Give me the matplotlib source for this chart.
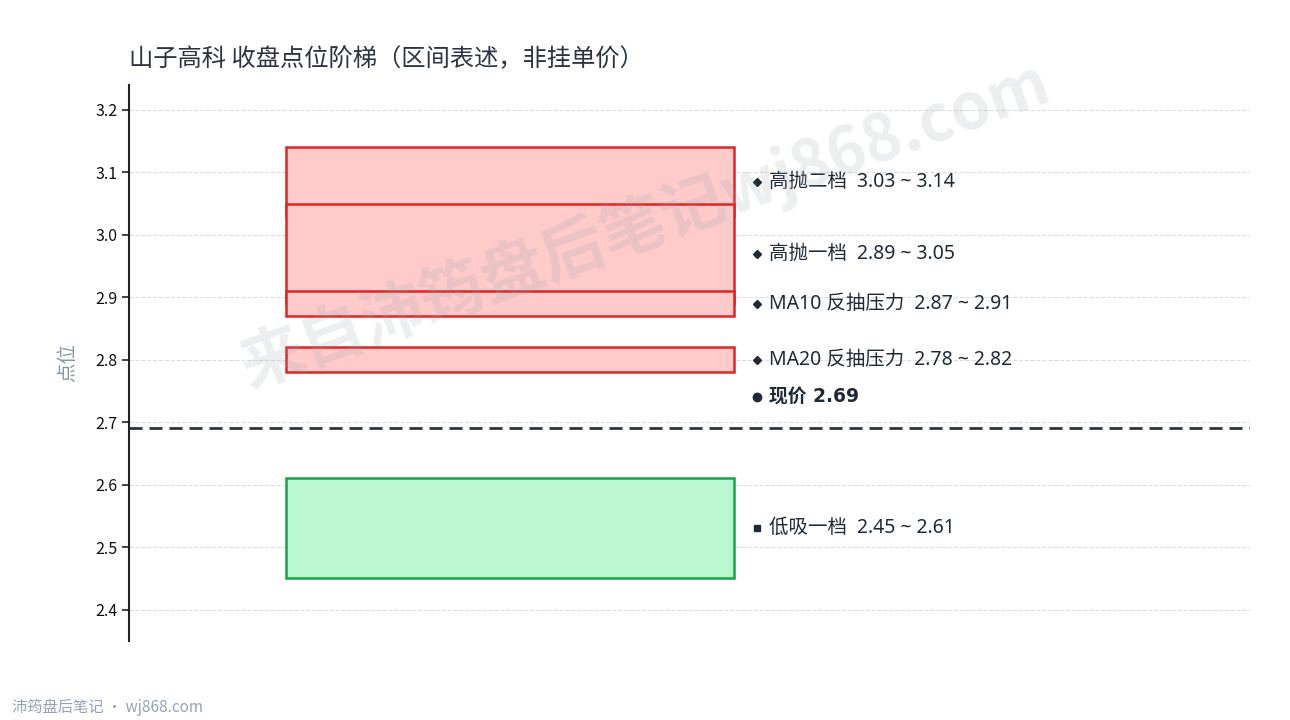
import matplotlib
matplotlib.use("Agg")
import matplotlib.pyplot as plt
from matplotlib.patches import Rectangle

plt.rcParams['font.family'] = ['Noto Sans CJK SC', 'DejaVu Sans']
label_family = ['Noto Sans', 'Noto Sans CJK SC']
bold_family = ['DejaVu Sans', 'Noto Sans CJK SC']

# ---- data ----
zone_names = ["高抛二档", "高抛一档", "MA10 反抽压力", "MA20 反抽压力", "低吸一档"]
zone_low = [3.03, 2.89, 2.87, 2.78, 2.45]
zone_high = [3.14, 3.05, 2.91, 2.82, 2.61]
zone_kind = ["resist", "resist", "resist", "resist", "support"]
current_price = 2.69
yticks = [2.4, 2.5, 2.6, 2.7, 2.8, 2.9, 3.0, 3.1, 3.2]

title = "山子高科 收盘点位阶梯（区间表述，非挂单价）"
ylabel = "点位"
watermark = "来自沛筠盘后笔记wj868.com"
footer = "沛筠盘后笔记 · wj868.com"

# ---- styles ----
styles = {
    "resist": dict(face="#fecaca", edge="#dc2626", marker="D"),
    "support": dict(face="#bbf7d0", edge="#16a34a", marker="s"),
}
text_color = "#1f2937"

fig = plt.figure(figsize=(12.9, 7.2), dpi=100)
ax = fig.add_axes([0.1, 0.11, 0.869, 0.772])

ax.set_xlim(0, 1)
ax.set_ylim(2.35, 3.24)

box_x0, box_x1 = 0.14, 0.54
label_x = 0.56

for name, lo, hi, kind in zip(zone_names, zone_low, zone_high, zone_kind):
    st = styles[kind]
    ax.add_patch(Rectangle((box_x0, lo), box_x1 - box_x0, hi - lo,
                           facecolor=st["face"], edgecolor=st["edge"], lw=1.8, zorder=3))

for name, lo, hi, kind in zip(zone_names, zone_low, zone_high, zone_kind):
    st = styles[kind]
    mid = (lo + hi) / 2
    ax.plot([label_x], [mid], marker=st["marker"], color=text_color,
            markersize=4 if st["marker"] == "D" else 5, zorder=5, clip_on=False)
    ax.text(label_x + 0.011, mid, f"{name}  {lo:.2f} ~ {hi:.2f}", va="center", ha="left",
            fontsize=14, color=text_color, zorder=5, family=label_family)

# current price
ax.axhline(current_price, color="#2d3343", lw=2, ls=(0, (4.7, 2.5)), zorder=4)
ax.plot([label_x], [current_price + 0.05], marker="o", color=text_color, markersize=6, zorder=5)
ax.text(label_x + 0.011, current_price + 0.05, f"现价 {current_price:.2f}", va="center", ha="left",
        fontsize=13.5, fontweight="bold", color=text_color, zorder=5, family=bold_family)

# axes styling
ax.set_yticks(yticks)
ax.set_yticklabels([f"{v:.1f}" for v in yticks], fontsize=11.5, color="#111111")
ax.tick_params(axis="y", length=5, width=1.2, color="#222222")
ax.set_xticks([])
for s in ["top", "right", "bottom"]:
    ax.spines[s].set_visible(False)
ax.spines["left"].set_color("#222222")
ax.spines["left"].set_linewidth(1.5)
ax.grid(axis="y", color="#dddddd", ls="--", lw=0.8, zorder=0)
ax.set_axisbelow(True)
ax.set_ylabel(ylabel, fontsize=14, color="#8a94a6", labelpad=12)

fig.text(0.1, 0.918, title, fontsize=17.5, color="#2d3343", ha="left", va="center")
fig.text(0.5, 0.688, watermark, fontsize=46, fontweight="bold", color="#9ca3af", alpha=0.18,
         rotation=19.7, ha="center", va="center", zorder=10)
fig.text(0.009, 0.018, footer, fontsize=11, color="#94a3b8", ha="left", va="center")

fig.savefig("out.png", dpi=100)
